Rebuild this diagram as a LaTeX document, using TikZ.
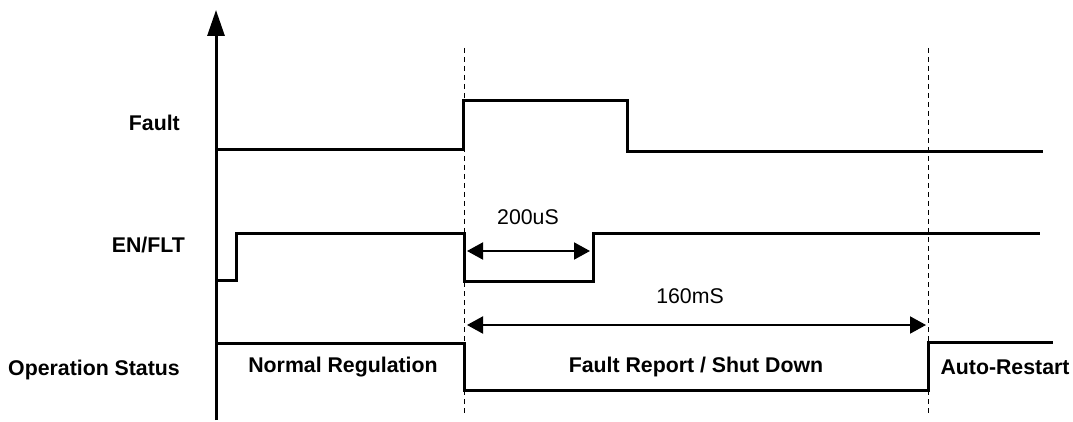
\documentclass[tikz,border=0pt]{standalone}
\usepackage{fontspec}
\setmainfont{Liberation Sans}
\usetikzlibrary{arrows.meta}
\begin{document}
\begin{tikzpicture}[x=1pt,y=-1pt,
  wave/.style={line width=3pt, line join=miter},
  guide/.style={line width=1pt, dash pattern=on 5pt off 4pt},
  dimarrow/.style={line width=2pt, {Triangle[length=16pt,width=17pt]}-{Triangle[length=16pt,width=17pt]}},
  sig/.style={font=\fontsize{21.3}{25}\selectfont\bfseries, anchor=east, inner sep=0pt},
  lab/.style={font=\fontsize{21.3}{25}\selectfont\bfseries, inner sep=0pt},
  val/.style={font=\fontsize{21.3}{25}\selectfont, inner sep=0pt}]
\useasboundingbox (0,0) rectangle (1073,422);
% axis
\coordinate (axbot) at (216,420);
\coordinate (axtop) at (216,10);
\draw[line width=3pt, -{Triangle[length=26pt,width=17pt]}] (axbot) -- (axtop);
% guides
\coordinate (g1t) at (464,48); \coordinate (g1b) at (464,415);
\coordinate (g2t) at (928,48); \coordinate (g2b) at (928,415);
\draw[guide] (g1t) -- (g1b);
\draw[guide] (g2t) -- (g2b);
% signal names
\node[sig] (nfault) at (180,123) {Fault};
\node[sig] (nen) at (185,245) {EN/FLT};
\node[sig] (nop) at (180,370) {Operation Status};
% waveforms
\draw[wave] (216,150) -- (463,150) -- (463,101) -- (627,101) -- (627,152) -- (1043,152);
\draw[wave] (216,280) -- (236,280) -- (236,233) -- (464,233) -- (464,281) -- (593,281) -- (593,233) -- (1040,233);
\draw[wave] (216,343) -- (464,343) -- (464,390) -- (928,390) -- (928,342) -- (1053,342);
% dimensions
\coordinate (d1a) at (467,251); \coordinate (d1b) at (590,251);
\draw[dimarrow] (d1a) -- (d1b);
\node[val] (t200) at (528,217) {200uS};
\coordinate (d2a) at (467,325); \coordinate (d2b) at (926,325);
\draw[dimarrow] (d2a) -- (d2b);
\node[val] (t160) at (690,296) {160mS};
% phases
\node[lab] (pnorm) at (343,367) {Normal Regulation};
\node[lab] (pfault) at (696,367) {Fault Report / Shut Down};
\node[lab] (pauto) at (1005,367) {Auto-Restart};
\end{tikzpicture}
\end{document}
